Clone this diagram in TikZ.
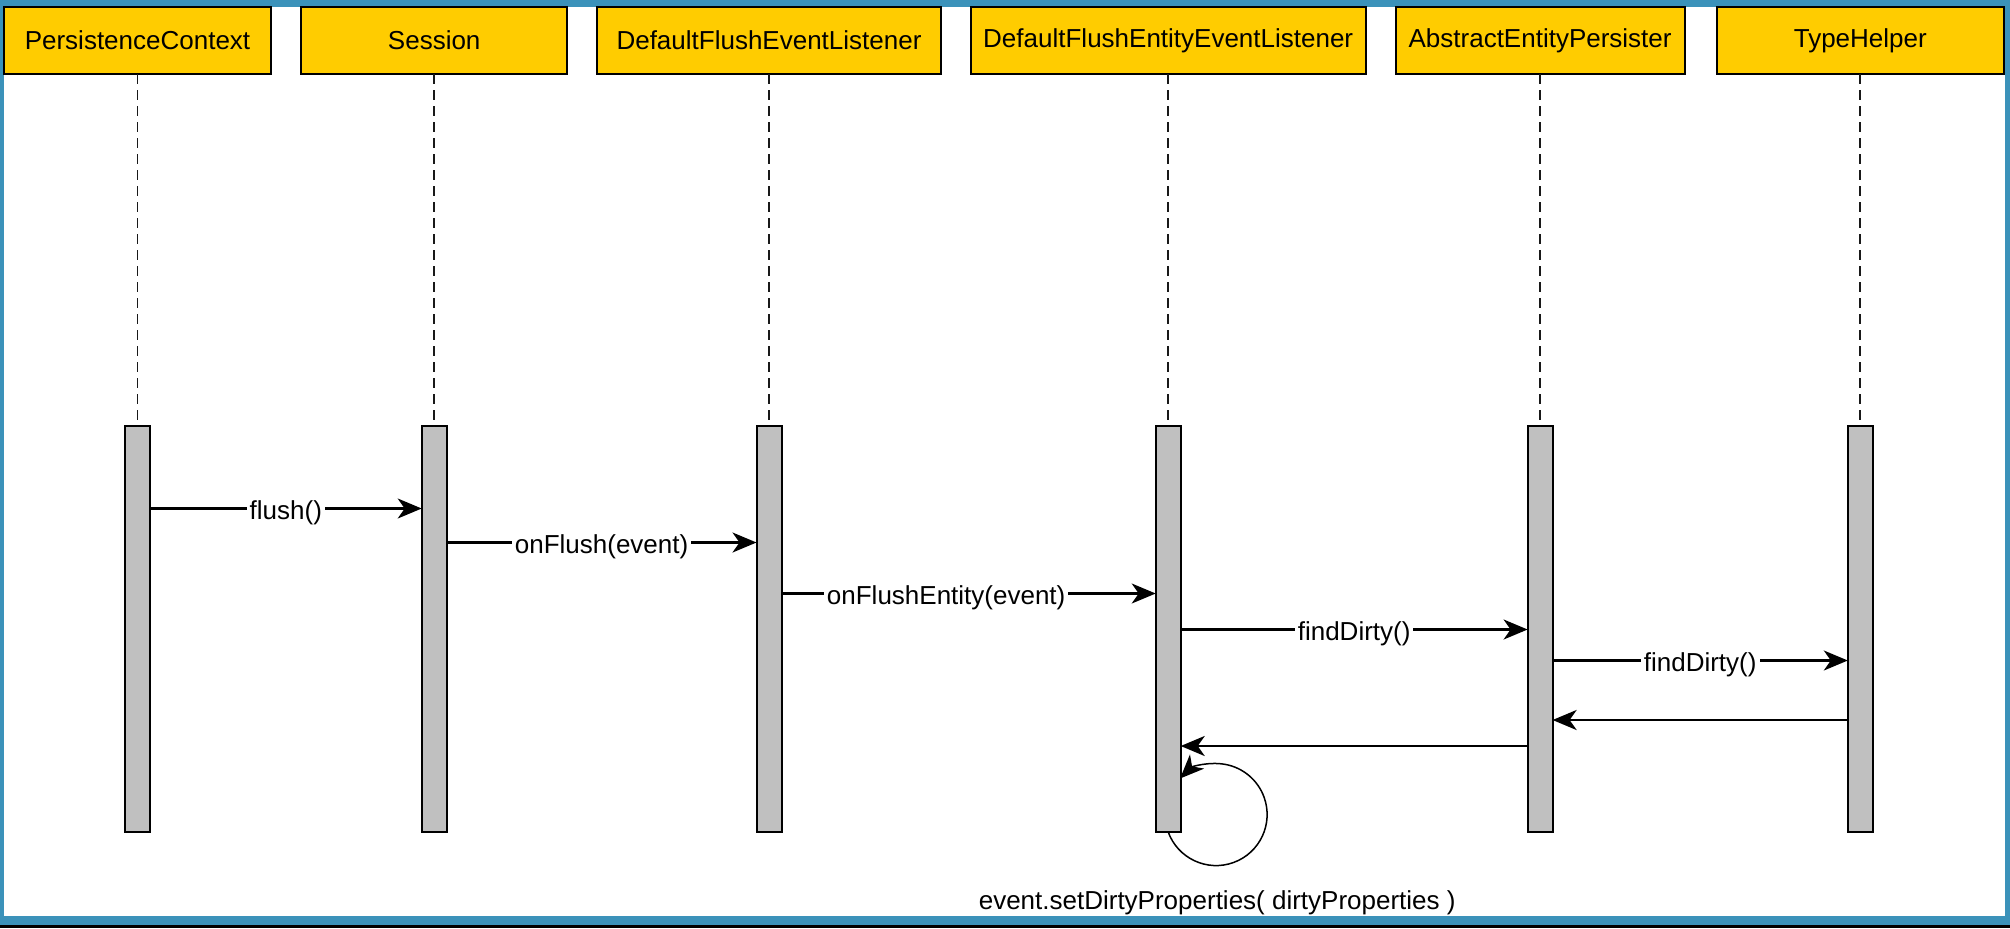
\documentclass[tikz,border=0pt]{standalone}
\usepackage{fontspec}
\setmainfont{Liberation Sans}
\usetikzlibrary{arrows.meta,positioning}

\definecolor{frameblue}{RGB}{59,146,186}
\definecolor{headyellow}{RGB}{255,204,0}
\definecolor{bargray}{RGB}{192,192,192}

\begin{document}
\begin{tikzpicture}
  [x=0.5pt,y=0.5pt,node distance=15pt,
   font=\fontsize{13pt}{15pt}\selectfont,
   header/.style={rectangle,draw=black,fill=headyellow,line width=1.1pt,
                  outer sep=0pt,minimum height=33.5pt},
   bar/.style={rectangle,draw=black,fill=bargray,line width=1pt,
               outer sep=0pt,minimum width=12.5pt,minimum height=203pt},
   lifeline/.style={draw=black!90,line width=0.9pt,dash pattern=on 5pt off 3pt},
   call/.style={line width=1.05pt,-{Stealth[length=12pt,width=10pt,inset=3.5pt]}},
   reply/.style={line width=1.35pt,-{Stealth[length=12pt,width=10pt,inset=3.5pt]}},
   selfcall/.style={line width=0.75pt,-{Stealth[length=12pt,width=10pt,inset=3.5pt]}},
   msg/.style={fill=white,inner xsep=1.5pt,inner ysep=1pt,yshift=-2pt}]
  % frame of the screenshot
  \fill[frameblue] (0,0) rectangle (2010,-928);
  \fill[black]     (0,-925) rectangle (2010,-928);
  \fill[white]     (3.7,-7) rectangle (2004.5,-916);

  \node[header,minimum width=133.7pt] (context)         at (137.5,-40.5)          {PersistenceContext};
  \node[header,minimum width=133pt]   (session)         [right=of context]        {Session};
  \node[header,minimum width=171.8pt] (flush listener)  [right=of session]        {DefaultFlushEventListener};
  \node[header,minimum width=197.4pt] (entity listener) [right=of flush listener] {DefaultFlushEntityEventListener};
  \node[header,minimum width=144.5pt] (persister)       [right=of entity listener] {AbstractEntityPersister};
  \node[header,minimum width=143.7pt] (type helper)     [right=16pt of persister] {TypeHelper};

  \node[bar] (context bar)   [below=176pt of context]         {};
  \node[bar] (session bar)   [below=176pt of session]         {};
  \node[bar] (flush bar)     [below=176pt of flush listener]  {};
  \node[bar] (entity bar)    [below=176pt of entity listener] {};
  \node[bar] (persister bar) [below=176pt of persister]       {};
  \node[bar] (helper bar)    [below=176pt of type helper]     {};

  \draw[lifeline] (context) -- (context bar);
  \draw[lifeline] (session) -- (session bar);
  \draw[lifeline] (flush listener) -- (flush bar);
  \draw[lifeline] (entity listener) -- (entity bar);
  \draw[lifeline] (persister) -- (persister bar);
  \draw[lifeline] (type helper) -- (helper bar);

  % calls
  \draw[call] ([yshift=-41.25pt]context bar.north east) -- ([yshift=-41.25pt]session bar.north west)
              node[msg,midway] {flush()};
  \draw[call] ([yshift=-58.25pt]session bar.north east) -- ([yshift=-58.25pt]flush bar.north west)
              node[msg,midway] {onFlush(event)};
  \draw[call] ([yshift=-83.75pt]flush bar.north east) -- ([yshift=-83.75pt]entity bar.north west)
              node[msg,pos=0.44] {onFlushEntity(event)};
  \draw[call] ([yshift=-101.75pt]entity bar.north east) -- ([yshift=-101.75pt]persister bar.north west)
              node[msg,midway] {findDirty()};
  \draw[call] ([yshift=-117.25pt]persister bar.north east) -- ([yshift=-117.25pt]helper bar.north west)
              node[msg,midway] {findDirty()};

  % returns
  \draw[reply] ([yshift=-147pt]helper bar.north west) -- ([yshift=-147pt]persister bar.north east);
  \draw[reply] ([yshift=-160pt]persister bar.north west) -- ([yshift=-160pt]entity bar.north east);

  \draw[selfcall] (entity bar.south) arc[start angle=200,end angle=495,radius=25.5pt];
  \node (set dirty) at ([xshift=24.5pt,yshift=-35.5pt]entity bar.south)
        {event.setDirtyProperties( dirtyProperties )};
\end{tikzpicture}
\end{document}
